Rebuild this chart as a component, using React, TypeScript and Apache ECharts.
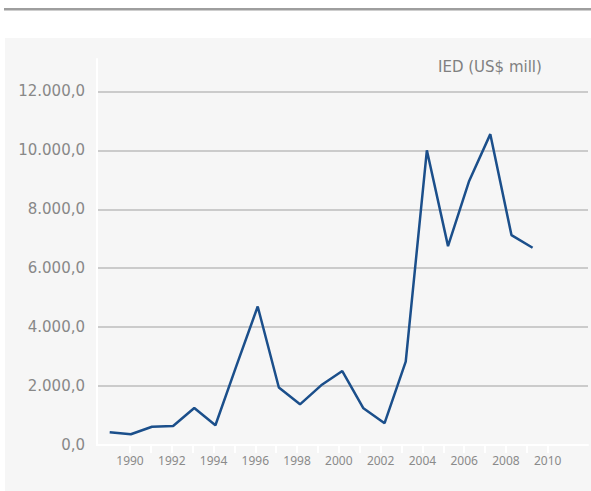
import React, { useEffect, useRef } from "react";
import * as echarts from "echarts";

const years = [1989, 1990, 1991, 1992, 1993, 1994, 1995, 1996, 1997, 1998, 1999, 2000, 2001, 2002, 2003, 2004, 2005, 2006, 2007, 2008, 2009];
const ied = [430, 365, 620, 645, 1255, 670, 2700, 4700, 1950, 1380, 2025, 2510, 1245, 740, 2830, 10000, 6750, 8960, 10550, 7125, 6695];
const tickYears = [1990, 1991, 1992, 1993, 1994, 1995, 1996, 1997, 1998, 1999, 2000, 2001, 2002, 2003, 2004, 2005, 2006, 2007, 2008, 2009, 2010];
const labelYears = [1990, 1992, 1994, 1996, 1998, 2000, 2002, 2004, 2006, 2008, 2010];
const title = "IED (US$ mill)";

const fmt = (v: number) =>
  Math.round(v).toString().replace(/\B(?=(\d{3})+(?!\d))/g, ".") + ",0";

export default function App() {
  const ref = useRef<HTMLDivElement>(null);
  useEffect(() => {
    if (!ref.current) return;
    const chart = echarts.init(ref.current, undefined, { renderer: "svg" });
    chart.setOption({
      animation: false,
      backgroundColor: "#ffffff",
      graphic: [
        { type: "rect", z: -10, shape: { x: 4, y: 8, width: 587, height: 2.5 }, style: { fill: "#9e9e9e" }, silent: true },
        { type: "rect", z: -10, shape: { x: 5, y: 38, width: 586, height: 453 }, style: { fill: "#f6f6f6" }, silent: true },
        {
          type: "text",
          x: 438,
          y: 67,
          style: {
            text: title,
            fill: "#808080",
            font: "15px 'DejaVu Sans'",
            verticalAlign: "middle",
            align: "left",
          },
        },
      ],
      grid: { left: 97, right: 3, top: 59, bottom: 46, containLabel: false },
      xAxis: [
        {
          type: "value",
          min: 1988.4,
          max: 2011.62,
          show: false,
        },
        {
          type: "value",
          position: "bottom",
          min: 1988.42,
          max: 2011.93,
          axisLine: { show: true, onZero: false, lineStyle: { color: "#ffffff", width: 2 } },
          axisTick: { show: true, customValues: tickYears, length: 8, lineStyle: { color: "#ffffff", width: 2 } },
          axisLabel: {
            customValues: labelYears,
            formatter: (v: number) => String(Math.round(v)),
            color: "#8a8a8a",
            fontSize: 12,
            fontFamily: "'Noto Sans'",
            margin: 9,
          },
          splitLine: { show: false },
        },
      ],
      yAxis: {
        type: "value",
        min: 0,
        max: 13100,
        interval: 2000,
        axisLine: { show: true, lineStyle: { color: "#ffffff", width: 2 } },
        axisTick: { show: false },
        axisLabel: {
          formatter: fmt,
          color: "#888888",
          fontSize: 15,
          fontFamily: "'DejaVu Sans'",
          margin: 12,
          showMaxLabel: false,
        },
        splitLine: {
          show: true,
          showMinLine: false,
          showMaxLine: false,
          lineStyle: { color: "#bdbdbd", width: 1.5 },
        },
      },
      series: [
        {
          type: "line",
          xAxisIndex: 0,
          data: years.map((y, i) => [y, ied[i]]),
          symbol: "none",
          lineStyle: { color: "#1b4f8b", width: 2.5 },
          itemStyle: { color: "#1b4f8b" },
        },
      ],
    });
    return () => chart.dispose();
  }, []);
  return <div ref={ref} style={{ position: "absolute", left: 0, top: 0, width: 591, height: 491 }} />;
}
